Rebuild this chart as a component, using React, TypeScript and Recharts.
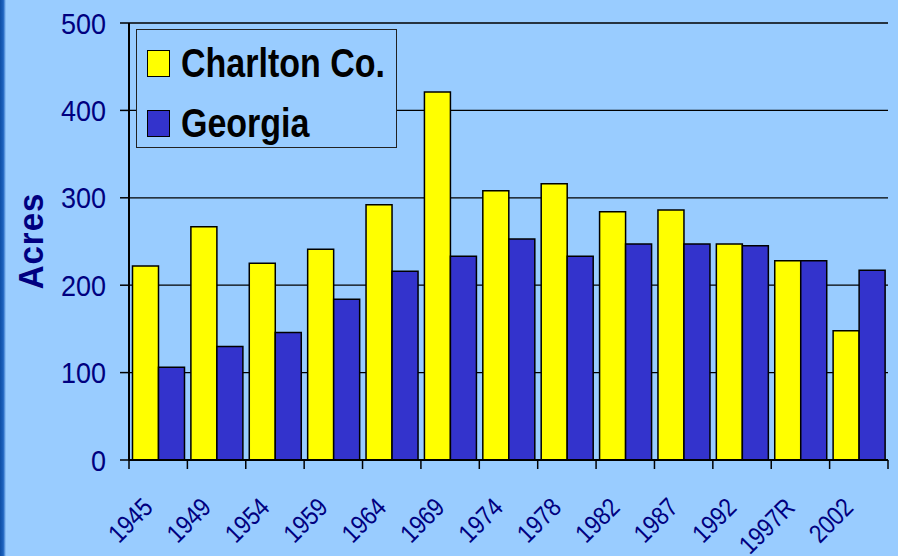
import { Bar, BarChart, CartesianGrid, XAxis, YAxis } from "recharts";

const years = ["1945", "1949", "1954", "1959", "1964", "1969", "1974", "1978", "1982", "1987", "1992", "1997R", "2002"];
const charlton = [222, 267, 225, 241, 292, 421, 308, 316, 284, 286, 247, 228, 148];
const georgia = [106, 130, 146, 184, 216, 233, 253, 233, 247, 247, 245, 228, 217];
const yTicks = [0, 100, 200, 300, 400, 500];

const data = years.map((year, i) => ({ year, charlton: charlton[i], georgia: georgia[i] }));

const W = 898;
const H = 556;
const PLOT_LEFT = 129;
const PLOT_RIGHT = 888;
const PLOT_TOP = 23;
const AXIS_Y = 460;
const BAND = (PLOT_RIGHT - PLOT_LEFT) / years.length;
const FONT = "'Liberation Sans', Arial, sans-serif";
const NAVY = "#000080";

function XTick(props: any) {
  const { x, payload } = props;
  const i = years.indexOf(payload.value);
  const left = x - BAND / 2;
  const tx = x - 4;
  const ty = AXIS_Y + 49;
  return (
    <g>
      <line x1={left} x2={left} y1={AXIS_Y} y2={AXIS_Y + 9} stroke="#000" strokeWidth={1.5} />
      {i === years.length - 1 && (
        <line x1={x + BAND / 2} x2={x + BAND / 2} y1={AXIS_Y} y2={AXIS_Y + 9} stroke="#000" strokeWidth={1.5} />
      )}
      <text
        x={0}
        y={0}
        transform={`translate(${tx} ${ty}) rotate(-45) scale(0.86 1)`}
        textAnchor="end"
        fill={NAVY}
        fontSize={26}
        fontFamily={FONT}
      >
        {payload.value}
      </text>
    </g>
  );
}

function YTick(props: any) {
  const { x, y, payload } = props;
  return (
    <text
      x={0}
      y={0}
      dy="0.36em"
      transform={`translate(${x} ${y}) scale(1 1.1)`}
      textAnchor="end"
      fill={NAVY}
      fontSize={27}
      fontFamily={FONT}
    >
      {payload.value}
    </text>
  );
}

function AcresLabel() {
  return (
    <text
      x={0}
      y={0}
      transform="translate(31 241) rotate(-90) scale(1 1.08)"
      textAnchor="middle"
      dominantBaseline="central"
      fill={NAVY}
      fontSize={33}
      fontWeight="bold"
      fontFamily={FONT}
      letterSpacing={1}
    >
      Acres
    </text>
  );
}

const legendItems = [
  { name: "Charlton Co.", color: "#FFFF00" },
  { name: "Georgia", color: "#3333CC" },
];

export default function App() {
  return (
    <div style={{ position: "fixed", left: 0, top: 0, width: W, height: H, background: "#99CCFF", overflow: "hidden" }}>
      <div
        style={{
          position: "absolute",
          left: 0,
          top: 0,
          width: 6,
          height: H,
          background: "linear-gradient(to right, #0d4ea6 0%, #1e63bf 55%, #99CCFF 100%)",
        }}
      />
      <BarChart
        width={W}
        height={H}
        data={data}
        margin={{ top: PLOT_TOP, right: W - PLOT_RIGHT, bottom: 0, left: 0 }}
        barCategoryGap="6%"
        barGap={0}
      >
        <CartesianGrid vertical={false} stroke="#000" strokeWidth={1.3} />
        <XAxis
          dataKey="year"
          height={H - AXIS_Y}
          interval={0}
          tickLine={false}
          axisLine={{ stroke: "#000", strokeWidth: 2 }}
          tick={<XTick />}
        />
        <YAxis
          domain={[0, 500]}
          ticks={yTicks}
          width={PLOT_LEFT}
          tickSize={9}
          tickMargin={14}
          axisLine={{ stroke: "#000", strokeWidth: 2 }}
          tickLine={{ stroke: "#000", strokeWidth: 1.5 }}
          tick={<YTick />}
          label={<AcresLabel />}
        />
        <YAxis
          yAxisId="right"
          orientation="right"
          width={0}
          tick={false}
          tickLine={false}
          axisLine={{ stroke: "#000", strokeWidth: 1.5 }}
        />
        <Bar dataKey="charlton" name="Charlton Co." fill="#FFFF00" stroke="#000" strokeWidth={1.5} isAnimationActive={false} />
        <Bar dataKey="georgia" name="Georgia" fill="#3333CC" stroke="#000" strokeWidth={1.5} isAnimationActive={false} />
      </BarChart>
      <div
        style={{
          position: "absolute",
          left: 136,
          top: 29,
          width: 259,
          height: 117,
          border: "1px solid #222",
          background: "#99CCFF",
        }}
      >
        {legendItems.map((item, i) => (
          <div
            key={item.name}
            style={{
              position: "absolute",
              left: 10,
              top: 13 + i * 60,
              height: 40,
              display: "flex",
              alignItems: "center",
            }}
          >
            <div style={{ width: 21, height: 25, background: item.color, border: "1px solid #000" }} />
            <span
              style={{
                marginLeft: 11,
                fontFamily: FONT,
                fontWeight: "bold",
                fontSize: 34,
                color: "#000",
                whiteSpace: "nowrap",
                display: "inline-block",
                transform: "scale(1, 1.18)",
                lineHeight: "40px",
              }}
            >
              {item.name}
            </span>
          </div>
        ))}
      </div>
    </div>
  );
}
